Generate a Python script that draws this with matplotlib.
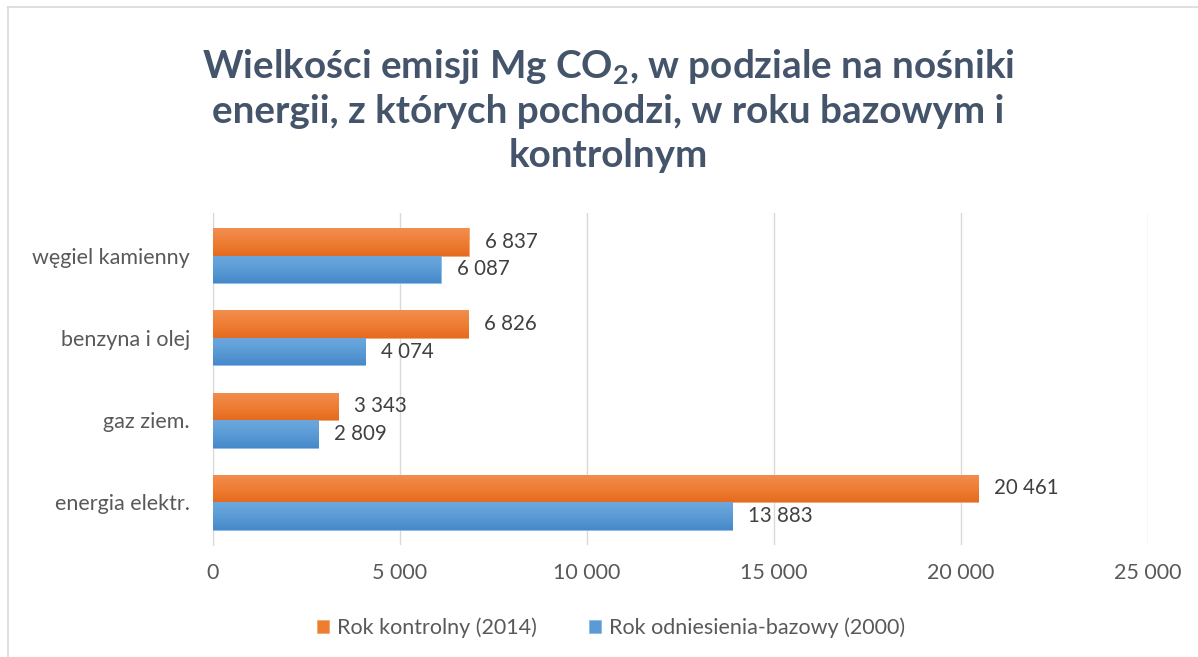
import numpy as np
import matplotlib.pyplot as plt
from matplotlib.lines import Line2D
from matplotlib.colors import LinearSegmentedColormap

# Data
categories = ['energia elektr.', 'gaz ziem.', 'benzyna i olej', 'węgiel kamienny']
rok_kontrolny = [20461, 3343, 6826, 6837]
rok_bazowy = [13883, 2809, 4074, 6087]
series_names = ['Rok kontrolny (2014)', 'Rok odniesienia-bazowy (2000)']

plt.rcParams['font.family'] = ['Lato', 'DejaVu Sans']
plt.rcParams['mathtext.default'] = 'regular'

orange = '#ED7D31'
blue = '#5B9BD5'
text_col = '#595959'
grad = {
    orange: LinearSegmentedColormap.from_list('o', ['#E56B1F', '#EE7E35', '#F38D50']),
    blue: LinearSegmentedColormap.from_list('b', ['#4689CA', '#5B9BD5', '#6CA8DE']),
}


def fmt(v):
    return '{:,}'.format(v).replace(',', ' ')


fig = plt.figure(figsize=(11.98, 6.57), dpi=100)
# chart-area border: only the top and left edges are visible in the crop
fig.add_artist(Line2D([0.007, 1.0], [0.9895, 0.9895], transform=fig.transFigure,
                      color='#D9D9D9', linewidth=1.2))
fig.add_artist(Line2D([0.007, 0.007], [0.0, 0.9895], transform=fig.transFigure,
                      color='#D9D9D9', linewidth=1.2))

ax = fig.add_axes([0.1778, 0.1705, 0.7805, 0.5053])
y = np.arange(len(categories))
h = 0.335
b1 = ax.barh(y + h / 2, rok_kontrolny, height=h, color=orange, edgecolor='#F4A46E',
             linewidth=0.6, label=series_names[0], zorder=3)
b2 = ax.barh(y - h / 2, rok_bazowy, height=h, color=blue, edgecolor='#8DBBE6',
             linewidth=0.6, label=series_names[1], zorder=3)

# vertical gradient inside each bar
g = np.linspace(0, 1, 64).reshape(-1, 1)
for bars, col in ((b1, orange), (b2, blue)):
    for bar in bars:
        x0, y0 = bar.get_x(), bar.get_y()
        im = ax.imshow(g, cmap=grad[col], aspect='auto', origin='lower',
                       extent=(x0, x0 + bar.get_width(), y0, y0 + bar.get_height()),
                       zorder=3.5)
        im.set_clip_path(bar)

for bars, vals in ((b1, rok_kontrolny), (b2, rok_bazowy)):
    for bar, v in zip(bars, vals):
        ax.text(v + 430, bar.get_y() + bar.get_height() / 2, fmt(v),
                va='center', ha='left', fontsize=14.8, color='#404040')

ax.set_xlim(0, 25000)
ax.set_ylim(-0.52, 3.52)
ax.set_xticks(range(0, 25001, 5000))
ax.set_xticklabels([fmt(v) for v in range(0, 25001, 5000)])
ax.set_yticks(y)
ax.set_yticklabels(categories)
ax.tick_params(axis='both', length=0, labelsize=15.5, labelcolor=text_col)
ax.tick_params(axis='x', pad=13)
ax.tick_params(axis='y', pad=16.5)
ax.grid(axis='x', color='#D9D9D9', linewidth=1, zorder=0)
for s in ['top', 'right', 'bottom']:
    ax.spines[s].set_visible(False)
ax.spines['left'].set_color('#D9D9D9')

fig.text(0.508, 0.833,
         'Wielkości emisji Mg CO$_2$, w podziale na nośniki\nenergii, z których pochodzi, w roku bazowym i\nkontrolnym',
         ha='center', va='center', fontsize=27.8, fontweight='bold', color='#44546A',
         linespacing=1.29)

fig.legend(handles=[b1, b2], labels=series_names, loc='center', bbox_to_anchor=(0.51, 0.045),
           ncol=2, frameon=False, fontsize=15.5, labelcolor=text_col, handlelength=0.55,
           handleheight=0.55, columnspacing=2.4, handletextpad=0.4)

fig.savefig('out.png', dpi=100)
